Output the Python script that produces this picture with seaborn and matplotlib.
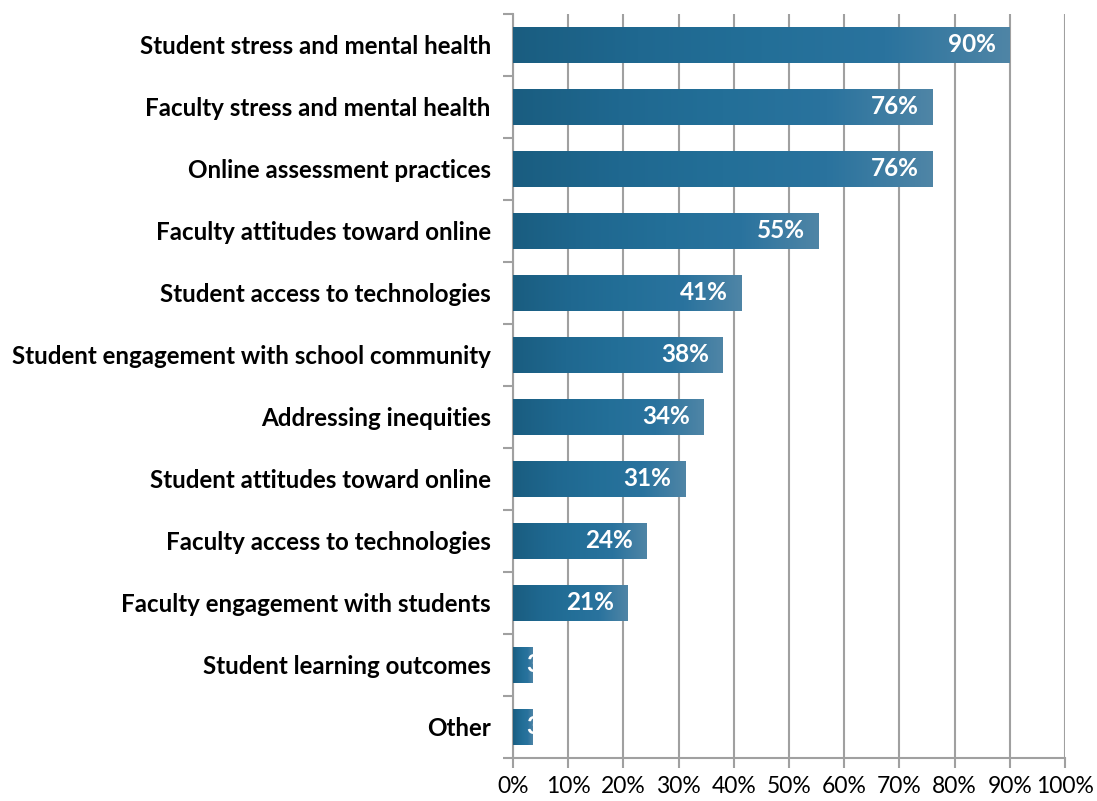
import numpy as np
import pandas as pd
import matplotlib
matplotlib.use("Agg")
import matplotlib.pyplot as plt
import seaborn as sns
from matplotlib.colors import LinearSegmentedColormap
from matplotlib.ticker import FixedLocator

categories = [
    "Student stress and mental health",
    "Faculty stress and mental health",
    "Online assessment practices",
    "Faculty attitudes toward online",
    "Student access to technologies",
    "Student engagement with school community",
    "Addressing inequities",
    "Student attitudes toward online",
    "Faculty access to technologies",
    "Faculty engagement with students",
    "Student learning outcomes",
    "Other",
]
values = [90, 76, 76, 55.4, 41.4, 38, 34.6, 31.2, 24.2, 20.8, 3.5, 3.5]
value_labels = ["90%", "76%", "76%", "55%", "41%", "38%", "34%", "31%", "24%", "21%", "3%", "3%"]
tick_labels = ["0%", "10%", "20%", "30%", "40%", "50%", "60%", "70%", "80%", "90%", "100%"]

df = pd.DataFrame({"category": categories, "value": values})

sns.set_theme(style="white")
plt.rcParams["font.family"] = ["Lato", "DejaVu Sans"]

fig = plt.figure(figsize=(10.97, 8.01), dpi=100)
ax = fig.add_axes([513 / 1097, 1 - 758 / 801, (1065 - 513) / 1097, (758 - 14) / 801])

sns.barplot(data=df, y="category", x="value", orient="h", color="#1f6a90",
            width=0.57, ax=ax, zorder=3)

ax.set_xlim(0, 100)
ax.set_ylim(len(categories) - 0.5, -0.5)

cmap = LinearSegmentedColormap.from_list(
    "bar", ["#1a5d80", "#1f6890", "#236f98", "#2a739e", "#4f85a6"])
grad = np.linspace(0, 1, 256).reshape(1, -1)

for patch in ax.patches:
    x0, y0 = patch.get_x(), patch.get_y()
    w, h = patch.get_width(), patch.get_height()
    patch.set_facecolor("none")
    patch.set_edgecolor("none")
    im = ax.imshow(grad, cmap=cmap, aspect="auto",
                   extent=[x0, x0 + w, y0 + h, y0], zorder=3,
                   interpolation="bicubic")
    im.set_clip_path(patch)

for patch, val, lab in zip(ax.patches, values, value_labels):
    yc = patch.get_y() + patch.get_height() / 2
    if val > 10:
        t = ax.text(val - 2.5, yc, lab, ha="right", va="center",
                    color="white", fontsize=17.5, fontweight="bold", zorder=5)
    else:
        t = ax.text(2.4, yc, lab, ha="left", va="center",
                    color="white", fontsize=17.5, fontweight="bold", zorder=5)
    t.set_clip_path(patch)

ax.set_xlabel("")
ax.set_ylabel("")
ax.xaxis.set_major_locator(FixedLocator(np.arange(0, 101, 10)))
ax.set_xticklabels(tick_labels)
ax.grid(axis="x", color="#a0a0a0", linewidth=1.5, zorder=0)
ax.grid(axis="y", visible=False)

ax.yaxis.set_minor_locator(FixedLocator(np.arange(-0.5, len(categories), 1)))
ax.tick_params(axis="y", which="major", length=0, pad=16, labelsize=17.4,
               labelcolor="black")
ax.tick_params(axis="y", which="minor", length=7, width=1.5, color="#a0a0a0",
               direction="out", left=True)
ax.tick_params(axis="x", which="major", length=7, width=1.5, color="#a0a0a0",
               direction="out", bottom=True, labelsize=16.5, pad=6,
               labelcolor="black")
for lab in ax.get_yticklabels():
    lab.set_fontweight("bold")

for s in ["top", "right"]:
    ax.spines[s].set_visible(False)
for s in ["left", "bottom"]:
    ax.spines[s].set_visible(True)
    ax.spines[s].set_color("#a0a0a0")
    ax.spines[s].set_linewidth(1.5)

fig.savefig("out.png", dpi=100, facecolor="white")
